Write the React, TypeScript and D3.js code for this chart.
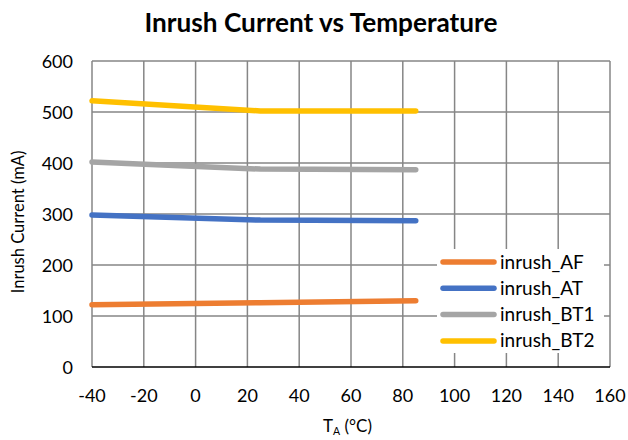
import React from "react";
import * as d3 from "d3";

const temps = [-40, 25, 85];
const inrushAF = [122, 126, 130];
const inrushAT = [298, 288, 287];
const inrushBT1 = [402, 388, 387];
const inrushBT2 = [522, 502, 502];
const seriesNames = ["inrush_AF", "inrush_AT", "inrush_BT1", "inrush_BT2"];
const seriesColors = ["#ED7D31", "#4472C4", "#A5A5A5", "#FFC000"];
const xTicks = [-40, -20, 0, 20, 40, 60, 80, 100, 120, 140, 160];
const yTicks = [0, 100, 200, 300, 400, 500, 600];

const W = 628, H = 440;
const left = 92, right = 610, top = 61, bottom = 367;
const font = "Lato, 'Open Sans', sans-serif";

export default function App() {
  const x = d3.scaleLinear().domain([-40, 160]).range([left, right]);
  const y = d3.scaleLinear().domain([0, 600]).range([bottom, top]);
  const line = d3.line<[number, number]>().x(d => x(d[0])).y(d => y(d[1]));
  const all = [inrushAF, inrushAT, inrushBT1, inrushBT2];
  const lgX = 437, lgY = 249, lgW = 167, lgH = 104;
  return (
    <svg width={W} height={H} style={{ position: "absolute", left: 0, top: 0, background: "#fff" }} fontFamily={font}>
      <rect width={W} height={H} fill="#fff" />
      <text x={321} y={32} textAnchor="middle" fontSize={26} fontWeight="bold" fill="#000" textLength={353} lengthAdjust="spacingAndGlyphs">Inrush Current vs Temperature</text>
      {yTicks.filter(t => t > 0).map(t => (
        <line key={"gy" + t} x1={left} x2={right} y1={y(t)} y2={y(t)} stroke="#868686" strokeWidth={1.5} />
      ))}
      {xTicks.map(t => (
        <line key={"gx" + t} x1={x(t)} x2={x(t)} y1={top} y2={bottom} stroke="#868686" strokeWidth={1.5} />
      ))}
      <line x1={left} x2={right} y1={bottom} y2={bottom} stroke="#000" strokeWidth={1.5} />
      {yTicks.map(t => (
        <text key={"ly" + t} x={73} y={y(t) + 6.5} textAnchor="end" fontSize={18} fill="#000">{t}</text>
      ))}
      {xTicks.map(t => (
        <text key={"lx" + t} x={x(t)} y={402} textAnchor="middle" fontSize={18} fill="#000">{t}</text>
      ))}
      <text transform={`translate(24,${(top + bottom) / 2 + 8}) rotate(-90)`} textAnchor="middle" fontSize={16.5} fill="#000">Inrush Current (mA)</text>
      <text x={323} y={432} fontSize={17} fill="#000">
        T<tspan fontSize={10.5} dy={3}>A</tspan><tspan dy={-3}> (°C)</tspan>
      </text>
      {all.map((vals, i) => (
        <path key={"s" + i} d={line(temps.map((t, j) => [t, vals[j]] as [number, number])) || ""} fill="none"
          stroke={seriesColors[i]} strokeWidth={5.5} strokeLinecap="round" strokeLinejoin="round" />
      ))}
      <rect x={lgX} y={lgY} width={lgW} height={lgH} fill="#fff" />
      {seriesNames.map((n, i) => {
        const cy = 262 + i * 26.3;
        return (
          <g key={"lg" + n}>
            <line x1={443} x2={494} y1={cy} y2={cy} stroke={seriesColors[i]} strokeWidth={5.5} strokeLinecap="round" />
            <text x={500} y={cy + 6.5} fontSize={19} fill="#000">{n}</text>
          </g>
        );
      })}
    </svg>
  );
}
